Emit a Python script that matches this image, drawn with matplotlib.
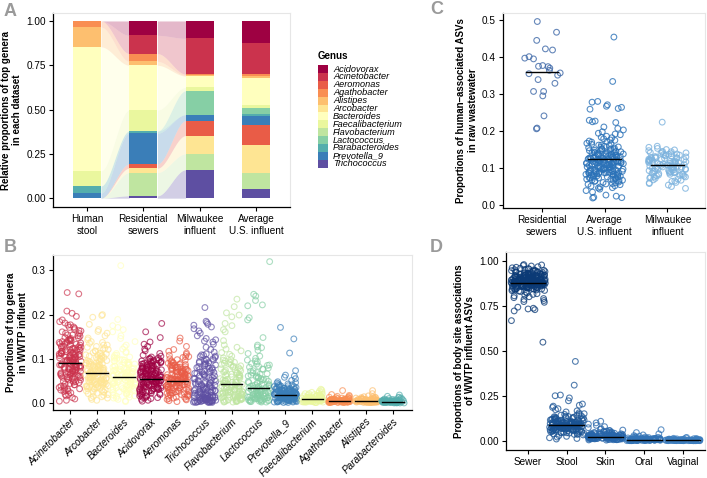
import numpy as np
import matplotlib
matplotlib.use("Agg")
from matplotlib import pyplot as plt
from matplotlib.patches import Rectangle

plt.rcParams['font.family'] = ['Liberation Sans', 'DejaVu Sans']
plt.rcParams['font.size'] = 7

# Genus colours (Spectral, alphabetical)
genera = ["Acidovorax", "Acinetobacter", "Aeromonas", "Agathobacter", "Alistipes",
          "Arcobacter", "Bacteroides", "Faecalibacterium", "Flavobacterium",
          "Lactococcus", "Parabacteroides", "Prevotella_9", "Trichococcus"]
genus_color = dict(zip(genera, plt.get_cmap('Spectral')(np.linspace(0, 1, 13))))

# Panel A data: proportions stacked bottom -> top
datasets = ["Human\nstool", "Residential\nsewers", "Milwaukee\ninfluent", "Average\nU.S. influent"]
stack_order = ["Trichococcus", "Flavobacterium", "Arcobacter", "Aeromonas", "Prevotella_9",
               "Parabacteroides", "Lactococcus", "Faecalibacterium", "Bacteroides",
               "Alistipes", "Agathobacter", "Acinetobacter", "Acidovorax"]
human_stool = [0, 0, 0, 0, 0.028, 0.041, 0, 0.085, 0.700, 0.112, 0.034, 0, 0]
residential = [0.013, 0.131, 0.025, 0.024, 0.173, 0.013, 0, 0.118, 0.253, 0.022, 0.044, 0.103, 0.081]
milwaukee = [0.160, 0.090, 0.103, 0.084, 0.034, 0, 0.135, 0.019, 0.064, 0.004, 0.007, 0.202, 0.098]
average_us = [0.051, 0.092, 0.157, 0.115, 0.050, 0.008, 0.037, 0.015, 0.154, 0.010, 0.011, 0.178, 0.122]

# Panel B data: proportions of top genera in WWTP influent
b_genera = ["Acinetobacter", "Arcobacter", "Bacteroides", "Acidovorax", "Aeromonas", "Trichococcus",
            "Flavobacterium", "Lactococcus", "Prevotella_9", "Faecalibacterium", "Agathobacter",
            "Alistipes", "Parabacteroides"]
b_acinetobacter = [0.250, 0.247, 0.208, 0.203, 0.196, 0.188, 0.184, 0.181, 0.177, 0.176, 0.172, 0.169, 0.166,
                   0.163, 0.161, 0.157, 0.154, 0.152, 0.148, 0.146, 0.143, 0.141, 0.139, 0.136, 0.133, 0.131,
                   0.128, 0.126, 0.124, 0.121, 0.119, 0.116, 0.114, 0.112, 0.110, 0.107, 0.105, 0.104, 0.101,
                   0.099, 0.097, 0.096, 0.093, 0.092, 0.090, 0.088, 0.086, 0.085, 0.083, 0.081, 0.079, 0.078,
                   0.076, 0.074, 0.072, 0.070, 0.068, 0.066, 0.064, 0.061, 0.059, 0.057, 0.055, 0.052, 0.049,
                   0.047, 0.044, 0.041, 0.038, 0.035, 0.032, 0.029, 0.026, 0.023, 0.019, 0.016, 0.012, 0.009,
                   0.006, 0.004, 0.094, 0.087, 0.102, 0.080, 0.109, 0.073, 0.115, 0.066, 0.122, 0.058,
                   0.131, 0.072, 0.108, 0.055, 0.143, 0.087, 0.029, 0.119, 0.064, 0.097, 0.151, 0.041, 0.113,
                   0.079, 0.136, 0.052, 0.092, 0.124, 0.068, 0.101, 0.034, 0.158, 0.083, 0.117, 0.046, 0.129,
                   0.074, 0.106, 0.061, 0.095, 0.139, 0.027, 0.111, 0.086, 0.147, 0.057, 0.099, 0.123, 0.069,
                   0.164, 0.038, 0.089, 0.115, 0.076, 0.133, 0.050, 0.103, 0.081, 0.127, 0.063, 0.094, 0.171,
                   0.043, 0.109, 0.071, 0.137, 0.058, 0.098, 0.120, 0.084, 0.145, 0.031, 0.112, 0.066, 0.102,
                   0.154, 0.077, 0.118, 0.048, 0.091, 0.134, 0.060, 0.105, 0.082, 0.126, 0.019, 0.096, 0.140,
                   0.070, 0.110]
b_arcobacter = [0.200, 0.198, 0.194, 0.178, 0.166, 0.162, 0.158, 0.152, 0.147, 0.143, 0.139, 0.135, 0.131,
                0.128, 0.124, 0.121, 0.117, 0.114, 0.111, 0.108, 0.105, 0.102, 0.099, 0.096, 0.094, 0.091,
                0.089, 0.086, 0.084, 0.081, 0.079, 0.077, 0.075, 0.073, 0.070, 0.068, 0.066, 0.064, 0.062,
                0.060, 0.058, 0.056, 0.054, 0.052, 0.050, 0.048, 0.046, 0.044, 0.042, 0.040, 0.038, 0.036,
                0.034, 0.032, 0.030, 0.027, 0.025, 0.022, 0.019, 0.017, 0.014, 0.011, 0.008, 0.006, 0.069,
                0.063, 0.074, 0.057, 0.083, 0.051, 0.090, 0.045,
                0.072, 0.041, 0.098, 0.056, 0.121, 0.033, 0.084, 0.063, 0.109, 0.047, 0.077, 0.024, 0.092,
                0.059, 0.131, 0.038, 0.068, 0.103, 0.051, 0.086, 0.015, 0.074, 0.113, 0.044, 0.065, 0.096,
                0.029, 0.081, 0.054, 0.118, 0.036, 0.071, 0.089, 0.048, 0.106, 0.061, 0.021, 0.079, 0.052,
                0.126, 0.039, 0.067, 0.094, 0.057, 0.083, 0.031, 0.101, 0.046, 0.073, 0.112, 0.026, 0.062,
                0.087, 0.049, 0.076, 0.035, 0.099, 0.058, 0.137, 0.043, 0.069, 0.091, 0.012, 0.078, 0.053,
                0.107, 0.037, 0.066, 0.085, 0.045]
b_bacteroides = [0.311, 0.189, 0.175, 0.171, 0.166, 0.161, 0.152, 0.146, 0.139, 0.131, 0.127, 0.122, 0.116,
                 0.112, 0.108, 0.104, 0.101, 0.098, 0.095, 0.092, 0.089, 0.086, 0.083, 0.081, 0.078, 0.076,
                 0.073, 0.071, 0.069, 0.067, 0.065, 0.063, 0.061, 0.059, 0.057, 0.055, 0.053, 0.051, 0.049,
                 0.047, 0.045, 0.043, 0.041, 0.039, 0.037, 0.035, 0.033, 0.031, 0.029, 0.027, 0.025, 0.023,
                 0.020, 0.018, 0.016, 0.013, 0.011, 0.008, 0.005, 0.003, 0.058, 0.064, 0.052, 0.070, 0.046,
                 0.062, 0.035, 0.088, 0.047, 0.071, 0.021, 0.097, 0.054, 0.079, 0.039, 0.066, 0.108, 0.029,
                 0.059, 0.083, 0.043, 0.074, 0.015, 0.092, 0.051, 0.068, 0.033, 0.101, 0.057, 0.077, 0.041,
                 0.063, 0.024, 0.086, 0.049, 0.114, 0.037, 0.072, 0.055, 0.095, 0.027, 0.061, 0.081, 0.045,
                 0.069, 0.011, 0.091, 0.053, 0.075, 0.031, 0.064, 0.104, 0.048, 0.084, 0.019, 0.058, 0.078,
                 0.042, 0.067, 0.098, 0.034, 0.056, 0.087, 0.046, 0.073]
b_acidovorax = [0.180, 0.161, 0.148, 0.138, 0.133, 0.128, 0.122, 0.118, 0.112, 0.108, 0.106, 0.104, 0.102,
                0.100, 0.098, 0.096, 0.094, 0.092, 0.090, 0.088, 0.086, 0.084, 0.082, 0.080, 0.078, 0.076,
                0.074, 0.072, 0.070, 0.068, 0.066, 0.064, 0.062, 0.060, 0.058, 0.056, 0.054, 0.052, 0.050,
                0.048, 0.046, 0.044, 0.042, 0.040, 0.038, 0.036, 0.034, 0.032, 0.030, 0.028, 0.026, 0.024,
                0.022, 0.020, 0.018, 0.016, 0.014, 0.012, 0.010, 0.008, 0.006, 0.004, 0.057, 0.061, 0.049,
                0.053, 0.071, 0.043, 0.067, 0.039, 0.083, 0.031, 0.047, 0.059, 0.063, 0.091, 0.035, 0.075,
                0.056, 0.031, 0.078, 0.044, 0.091, 0.022, 0.065, 0.050, 0.084, 0.037, 0.069, 0.013, 0.097,
                0.058, 0.041, 0.075, 0.027, 0.062, 0.088, 0.047, 0.071, 0.019, 0.053, 0.093, 0.035, 0.066,
                0.081, 0.043, 0.059, 0.025, 0.101, 0.049, 0.073, 0.038, 0.063, 0.086, 0.016, 0.054, 0.077,
                0.042, 0.068, 0.029, 0.094, 0.057, 0.046, 0.079, 0.033, 0.061, 0.089, 0.051, 0.072, 0.021,
                0.064, 0.083, 0.039, 0.055, 0.099, 0.045, 0.070, 0.028, 0.060, 0.087, 0.048, 0.076, 0.011,
                0.052, 0.067, 0.036, 0.085, 0.058, 0.041, 0.095, 0.063, 0.024, 0.074, 0.050, 0.080, 0.032,
                0.066, 0.045]
b_aeromonas = [0.147, 0.140, 0.128, 0.121, 0.117, 0.113, 0.110, 0.108, 0.105, 0.103, 0.100, 0.097, 0.095,
               0.092, 0.090, 0.087, 0.085, 0.082, 0.080, 0.077, 0.075, 0.072, 0.070, 0.068, 0.066, 0.063,
               0.061, 0.059, 0.057, 0.055, 0.053, 0.051, 0.049, 0.047, 0.045, 0.043, 0.041, 0.039, 0.037,
               0.035, 0.033, 0.031, 0.029, 0.027, 0.025, 0.023, 0.021, 0.019, 0.017, 0.015, 0.013, 0.011,
               0.009, 0.007, 0.005, 0.003, 0.052, 0.048, 0.056, 0.044, 0.060, 0.040, 0.064, 0.036, 0.054,
               0.046, 0.074, 0.028, 0.081, 0.022,
               0.051, 0.028, 0.073, 0.041, 0.086, 0.019, 0.062, 0.047, 0.079, 0.034, 0.066, 0.010, 0.093,
               0.055, 0.038, 0.071, 0.024, 0.058, 0.084, 0.044, 0.068, 0.015, 0.049, 0.089, 0.031, 0.063,
               0.077, 0.040, 0.056, 0.022, 0.098, 0.046, 0.070, 0.035, 0.060, 0.082, 0.013, 0.052, 0.075,
               0.039, 0.065, 0.026, 0.091, 0.054, 0.043, 0.076, 0.030, 0.058, 0.087, 0.048, 0.069, 0.018,
               0.061, 0.080, 0.036, 0.053, 0.105, 0.042, 0.067, 0.025, 0.057, 0.085, 0.045, 0.072, 0.008,
               0.050, 0.064, 0.033, 0.081, 0.055]
b_trichococcus = [0.216, 0.185, 0.182, 0.178, 0.176, 0.172, 0.168, 0.163, 0.158, 0.152, 0.146, 0.143, 0.140,
                  0.138, 0.133, 0.126, 0.121, 0.115, 0.111, 0.108, 0.106, 0.103, 0.100, 0.097, 0.094, 0.091,
                  0.088, 0.085, 0.082, 0.079, 0.076, 0.073, 0.070, 0.067, 0.064, 0.061, 0.058, 0.055, 0.052,
                  0.049, 0.046, 0.043, 0.040, 0.037, 0.034, 0.031, 0.028, 0.025, 0.022, 0.019, 0.016, 0.013,
                  0.010, 0.008, 0.006, 0.004, 0.002, 0.001, 0.003, 0.005, 0.007, 0.009, 0.011, 0.014, 0.017,
                  0.020, 0.024, 0.029, 0.035, 0.041, 0.002, 0.004, 0.006, 0.001, 0.003, 0.012, 0.018, 0.026,
                  0.008, 0.031, 0.004, 0.057, 0.012, 0.083, 0.021, 0.003, 0.046, 0.015, 0.072, 0.006, 0.038,
                  0.094, 0.010, 0.027, 0.063, 0.002, 0.051, 0.018, 0.105, 0.007, 0.034, 0.078, 0.013, 0.043,
                  0.001, 0.067, 0.024, 0.089, 0.009, 0.055, 0.016, 0.036, 0.099, 0.005, 0.048, 0.022, 0.070,
                  0.011, 0.029, 0.086, 0.003, 0.059, 0.019, 0.040, 0.075, 0.007, 0.032, 0.109, 0.014, 0.053,
                  0.002, 0.066, 0.025, 0.044, 0.091, 0.010, 0.037, 0.080, 0.004, 0.061, 0.017, 0.049, 0.097,
                  0.006, 0.028, 0.069, 0.012, 0.042]
b_flavobacterium = [0.235, 0.218, 0.204, 0.199, 0.195, 0.180, 0.175, 0.166, 0.161, 0.141, 0.131, 0.126, 0.122,
                    0.118, 0.114, 0.110, 0.106, 0.102, 0.098, 0.095, 0.092, 0.089, 0.086, 0.083, 0.080, 0.077,
                    0.074, 0.071, 0.068, 0.065, 0.062, 0.059, 0.056, 0.053, 0.050, 0.047, 0.044, 0.041, 0.038,
                    0.035, 0.032, 0.029, 0.026, 0.023, 0.020, 0.017, 0.014, 0.011, 0.008, 0.005, 0.003, 0.002,
                    0.004, 0.007, 0.010, 0.013, 0.016, 0.019, 0.022, 0.025, 0.030, 0.036, 0.042, 0.012, 0.018,
                    0.021, 0.047, 0.008, 0.066, 0.033, 0.012, 0.081, 0.027, 0.055, 0.004, 0.039, 0.092, 0.016,
                    0.061, 0.029, 0.006, 0.073, 0.043, 0.019, 0.052, 0.010, 0.087, 0.035, 0.024, 0.068, 0.003,
                    0.045, 0.014, 0.058, 0.031, 0.097, 0.009, 0.049, 0.022, 0.077, 0.037, 0.005, 0.063, 0.026,
                    0.041, 0.015, 0.084, 0.053, 0.011, 0.034, 0.070, 0.020, 0.046, 0.007, 0.059, 0.028, 0.090,
                    0.038, 0.013, 0.064, 0.024, 0.051, 0.002, 0.075, 0.032]
b_lactococcus = [0.320, 0.246, 0.242, 0.232, 0.222, 0.220, 0.193, 0.188, 0.148, 0.131, 0.127, 0.125, 0.119,
                 0.112, 0.106, 0.101, 0.097, 0.093, 0.089, 0.085, 0.081, 0.077, 0.073, 0.069, 0.065, 0.061,
                 0.057, 0.053, 0.049, 0.045, 0.041, 0.038, 0.035, 0.032, 0.029, 0.026, 0.023, 0.020, 0.017,
                 0.014, 0.011, 0.008, 0.005, 0.003, 0.002, 0.004, 0.007, 0.010, 0.013, 0.016, 0.019, 0.022,
                 0.027, 0.033, 0.039, 0.006, 0.009, 0.012, 0.015, 0.024,
                 0.018, 0.042, 0.006, 0.061, 0.027, 0.011, 0.076, 0.022, 0.049, 0.003, 0.035, 0.088, 0.014,
                 0.055, 0.025, 0.005, 0.068, 0.038, 0.016, 0.046, 0.009, 0.083, 0.030, 0.020, 0.063, 0.002,
                 0.040, 0.012, 0.052, 0.028, 0.095, 0.007, 0.044, 0.019, 0.072, 0.033, 0.004, 0.058, 0.023,
                 0.037, 0.013, 0.079, 0.048, 0.010, 0.031, 0.066, 0.017, 0.041, 0.006, 0.054, 0.026, 0.086,
                 0.034, 0.011, 0.059]
b_prevotella = [0.171, 0.145, 0.113, 0.073, 0.063, 0.061, 0.058, 0.055, 0.051, 0.048, 0.045, 0.043, 0.041,
                0.039, 0.037, 0.035, 0.033, 0.031, 0.030, 0.028, 0.027, 0.025, 0.024, 0.023, 0.022, 0.021,
                0.020, 0.019, 0.018, 0.017, 0.016, 0.015, 0.014, 0.013, 0.012, 0.011, 0.010, 0.009, 0.008,
                0.007, 0.006, 0.005, 0.004, 0.003, 0.002, 0.001, 0.026, 0.022, 0.018, 0.014, 0.010, 0.006,
                0.029, 0.016, 0.012, 0.008, 0.004, 0.020, 0.024, 0.032, 0.019, 0.021, 0.017, 0.023,
                0.012, 0.027, 0.005, 0.019, 0.034, 0.009, 0.022, 0.015, 0.040, 0.003, 0.025, 0.011, 0.031,
                0.017, 0.007, 0.023, 0.037, 0.013, 0.002, 0.028, 0.018, 0.010, 0.033, 0.006, 0.021, 0.014,
                0.043, 0.008, 0.026, 0.016, 0.004, 0.030, 0.019, 0.011, 0.036, 0.001, 0.024, 0.013, 0.029,
                0.009, 0.020, 0.038, 0.006, 0.017, 0.027, 0.012, 0.003, 0.032, 0.015, 0.022, 0.008, 0.046,
                0.018, 0.010, 0.025, 0.005, 0.035, 0.014, 0.021, 0.002, 0.028, 0.011, 0.016, 0.039, 0.007,
                0.024, 0.013, 0.030, 0.004, 0.019]
b_faecalibacterium = [0.031, 0.029, 0.027, 0.025, 0.023, 0.021, 0.019, 0.018, 0.017, 0.016, 0.015, 0.014,
                      0.013, 0.012, 0.011, 0.010, 0.009, 0.008, 0.008, 0.007, 0.007, 0.006, 0.006, 0.005,
                      0.005, 0.004, 0.004, 0.003, 0.003, 0.002, 0.002, 0.001, 0.001, 0.010, 0.012, 0.009,
                      0.011, 0.006, 0.013, 0.008,
                      0.009, 0.004, 0.014, 0.007, 0.011, 0.002, 0.017, 0.006, 0.010, 0.003, 0.013, 0.008,
                      0.020, 0.005, 0.012, 0.001, 0.009, 0.015, 0.007, 0.004, 0.011, 0.024, 0.006, 0.010,
                      0.003, 0.008, 0.016, 0.005, 0.012, 0.002, 0.009, 0.018, 0.007, 0.013, 0.004, 0.010,
                      0.006, 0.021, 0.008, 0.011]
b_agathobacter = [0.028, 0.019, 0.017, 0.015, 0.013, 0.012, 0.011, 0.010, 0.009, 0.008, 0.007, 0.007, 0.006,
                  0.006, 0.005, 0.005, 0.004, 0.004, 0.004, 0.003, 0.003, 0.003, 0.002, 0.002, 0.002, 0.001,
                  0.001, 0.001, 0.006, 0.005, 0.009, 0.004, 0.007, 0.003, 0.008,
                  0.004, 0.002, 0.007, 0.003, 0.005, 0.001, 0.009, 0.004, 0.006, 0.002, 0.011, 0.003, 0.005,
                  0.008, 0.001, 0.004, 0.006, 0.013, 0.002, 0.005, 0.003, 0.007, 0.004, 0.010, 0.001, 0.006,
                  0.003, 0.005, 0.008, 0.002, 0.004, 0.015, 0.003, 0.006, 0.005]
b_alistipes = [0.028, 0.021, 0.016, 0.014, 0.013, 0.012, 0.011, 0.010, 0.009, 0.008, 0.008, 0.007, 0.006,
               0.006, 0.005, 0.005, 0.004, 0.004, 0.003, 0.003, 0.003, 0.002, 0.002, 0.002, 0.001, 0.001,
               0.001, 0.006, 0.005, 0.009, 0.004, 0.007, 0.003, 0.010,
               0.003, 0.006, 0.002, 0.005, 0.008, 0.001, 0.004, 0.007, 0.003, 0.011, 0.005, 0.002, 0.006,
               0.004, 0.009, 0.001, 0.005, 0.003, 0.012, 0.004, 0.007, 0.002, 0.005, 0.003, 0.008, 0.006,
               0.001, 0.004, 0.014, 0.003, 0.005, 0.002, 0.007, 0.004]
b_parabacteroides = [0.018, 0.015, 0.013, 0.011, 0.010, 0.009, 0.008, 0.007, 0.006, 0.005, 0.005, 0.004,
                     0.004, 0.003, 0.003, 0.003, 0.002, 0.002, 0.002, 0.002, 0.001, 0.001, 0.001, 0.001,
                     0.000, 0.000, 0.004, 0.006, 0.003, 0.002, 0.001,
                     0.002, 0.004, 0.001, 0.003, 0.006, 0.002, 0.000, 0.005, 0.003, 0.001, 0.008, 0.002,
                     0.004, 0.001, 0.003, 0.007, 0.002, 0.000, 0.005, 0.001, 0.003, 0.009, 0.002, 0.004,
                     0.001, 0.012, 0.003, 0.002, 0.006, 0.001, 0.004, 0.002, 0.003]
b_lines = [0.091, 0.068, 0.059, 0.055, 0.050, np.nan, 0.043, 0.034, 0.019, 0.009, 0.005, 0.005, 0.003]

# Panel C data: human-associated ASVs in raw wastewater
c_groups = ["Residential\nsewers", "Average\nU.S. influent", "Milwaukee\ninfluent"]
c_residential = [0.497, 0.468, 0.446, 0.423, 0.420, 0.402, 0.398, 0.396, 0.378, 0.376, 0.375, 0.371, 0.365,
                 0.358, 0.356, 0.352, 0.340, 0.330, 0.308, 0.308, 0.296, 0.242, 0.209, 0.207]
c_average = [0.455, 0.335, 0.281, 0.279, 0.272, 0.268, 0.265, 0.262, 0.260, 0.230, 0.228, 0.226, 0.224,
             0.212, 0.208, 0.204, 0.199, 0.195, 0.191, 0.187, 0.183, 0.180, 0.177, 0.174, 0.171, 0.168,
             0.165, 0.162, 0.160, 0.157, 0.155, 0.152, 0.150, 0.148, 0.146, 0.144, 0.142, 0.140, 0.138,
             0.136, 0.134, 0.132, 0.130, 0.128, 0.126, 0.124, 0.122, 0.120, 0.118, 0.116, 0.114, 0.112,
             0.110, 0.108, 0.106, 0.104, 0.102, 0.100, 0.098, 0.096, 0.094, 0.092, 0.090, 0.088, 0.086,
             0.084, 0.082, 0.080, 0.077, 0.074, 0.071, 0.068, 0.065, 0.062, 0.059, 0.056, 0.053, 0.050,
             0.047, 0.044, 0.040, 0.036, 0.028, 0.025, 0.022, 0.020, 0.021, 0.125, 0.119, 0.131, 0.113,
             0.137, 0.107, 0.143, 0.101, 0.127, 0.121, 0.115, 0.133, 0.109, 0.097, 0.153, 0.089, 0.163,
             0.118, 0.091, 0.142, 0.076, 0.129, 0.104, 0.061, 0.156, 0.113, 0.085, 0.134, 0.097, 0.069,
             0.147, 0.122, 0.081, 0.109, 0.138, 0.073, 0.116, 0.095, 0.163, 0.057, 0.126, 0.088, 0.105,
             0.151, 0.079, 0.119, 0.099, 0.066, 0.135, 0.111, 0.084, 0.172, 0.093, 0.124, 0.071, 0.108,
             0.141, 0.087, 0.115, 0.052, 0.131, 0.101, 0.077, 0.158, 0.094, 0.121, 0.083, 0.112, 0.145,
             0.068, 0.127, 0.098, 0.089, 0.136, 0.074, 0.117, 0.106, 0.184, 0.082, 0.123, 0.096, 0.063,
             0.149, 0.110, 0.086, 0.132, 0.102, 0.075, 0.166, 0.114, 0.092, 0.128, 0.058, 0.139, 0.103,
             0.080, 0.120, 0.193, 0.090, 0.125, 0.072, 0.107, 0.144, 0.085, 0.116, 0.048, 0.130, 0.100,
             0.078, 0.153, 0.095, 0.119, 0.067, 0.140, 0.111, 0.087, 0.176]
c_milwaukee = [0.225, 0.160, 0.157, 0.154, 0.151, 0.148, 0.146, 0.144, 0.142, 0.140, 0.138, 0.136, 0.134,
               0.132, 0.130, 0.128, 0.126, 0.124, 0.122, 0.120, 0.118, 0.116, 0.114, 0.112, 0.110, 0.108,
               0.106, 0.104, 0.102, 0.100, 0.098, 0.096, 0.094, 0.092, 0.090, 0.088, 0.086, 0.084, 0.082,
               0.080, 0.077, 0.074, 0.071, 0.068, 0.065, 0.062, 0.059, 0.055, 0.051, 0.046, 0.111, 0.117,
               0.105, 0.123, 0.099, 0.129, 0.093, 0.113, 0.107, 0.119,
               0.103, 0.127, 0.088, 0.139, 0.115, 0.076, 0.131, 0.097, 0.121, 0.083, 0.145, 0.109, 0.069,
               0.124, 0.092, 0.136, 0.101, 0.116, 0.079, 0.141, 0.106, 0.087, 0.128, 0.095, 0.119, 0.073,
               0.134, 0.099, 0.112, 0.085, 0.150, 0.104, 0.125, 0.066, 0.117, 0.091, 0.137, 0.108, 0.081,
               0.130, 0.096, 0.114, 0.061, 0.122, 0.089, 0.143, 0.102, 0.118, 0.077, 0.110]
c_lines = [0.360, 0.125, 0.110]

# Panel D data: body site associations of WWTP influent ASVs
d_sites = ["Sewer", "Stool", "Skin", "Oral", "Vaginal"]
d_sewer = [0.980, 0.978, 0.975, 0.972, 0.968, 0.965, 0.962, 0.959, 0.956, 0.953, 0.950, 0.947, 0.944, 0.941,
           0.938, 0.935, 0.932, 0.929, 0.926, 0.923, 0.920, 0.917, 0.914, 0.911, 0.908, 0.905, 0.902, 0.899,
           0.896, 0.893, 0.890, 0.887, 0.884, 0.881, 0.878, 0.875, 0.872, 0.869, 0.866, 0.863, 0.860, 0.857,
           0.854, 0.851, 0.848, 0.845, 0.842, 0.839, 0.836, 0.833, 0.830, 0.826, 0.822, 0.818, 0.814, 0.810,
           0.806, 0.801, 0.796, 0.791, 0.786, 0.780, 0.774, 0.770, 0.743, 0.737, 0.733, 0.729, 0.722, 0.668,
           0.548, 0.880, 0.890, 0.870, 0.900, 0.860, 0.910, 0.885, 0.875, 0.895, 0.865, 0.905, 0.855, 0.915,
           0.882, 0.878, 0.888, 0.872, 0.893, 0.884, 0.876, 0.898, 0.868, 0.903, 0.862, 0.912,
           0.884, 0.912, 0.861, 0.935, 0.873, 0.898, 0.847, 0.921, 0.889, 0.866, 0.943, 0.879, 0.904, 0.852,
           0.927, 0.893, 0.868, 0.916, 0.881, 0.839, 0.908, 0.876, 0.951, 0.887, 0.858, 0.924, 0.895, 0.871,
           0.914, 0.843, 0.901, 0.882, 0.937, 0.864, 0.891, 0.919, 0.874, 0.906, 0.849, 0.928, 0.886, 0.869,
           0.897, 0.931, 0.877, 0.855, 0.911, 0.890, 0.866, 0.946, 0.883, 0.902, 0.859, 0.922, 0.894, 0.872,
           0.918, 0.880, 0.835, 0.909, 0.885, 0.939, 0.867, 0.899, 0.853, 0.926, 0.888, 0.875, 0.913, 0.892,
           0.861, 0.933, 0.878, 0.903, 0.846, 0.920, 0.886, 0.870, 0.896, 0.957, 0.881, 0.857, 0.915, 0.893,
           0.868, 0.907, 0.876, 0.925, 0.889, 0.851, 0.900, 0.883, 0.941, 0.872, 0.910, 0.862, 0.897, 0.929,
           0.879, 0.844, 0.917, 0.887, 0.865, 0.904, 0.891, 0.874, 0.936, 0.884, 0.859, 0.913, 0.895, 0.871,
           0.922, 0.882, 0.848, 0.906, 0.890, 0.877, 0.948, 0.863]
d_stool = [0.441, 0.309, 0.254, 0.250, 0.238, 0.222, 0.204, 0.197, 0.192, 0.185, 0.178, 0.172, 0.166, 0.160,
           0.155, 0.150, 0.146, 0.142, 0.138, 0.134, 0.130, 0.127, 0.124, 0.121, 0.118, 0.115, 0.112, 0.109,
           0.106, 0.103, 0.100, 0.098, 0.096, 0.094, 0.092, 0.090, 0.088, 0.086, 0.084, 0.082, 0.080, 0.078,
           0.076, 0.074, 0.072, 0.070, 0.068, 0.066, 0.064, 0.062, 0.060, 0.058, 0.056, 0.054, 0.052, 0.050,
           0.047, 0.044, 0.041, 0.038, 0.035, 0.032, 0.028, 0.024, 0.020, 0.016, 0.012, 0.009, 0.091, 0.087,
           0.095, 0.083, 0.099, 0.079, 0.089, 0.093, 0.085, 0.097, 0.081, 0.101, 0.075, 0.105, 0.071, 0.111,
           0.087, 0.061, 0.112, 0.074, 0.095, 0.048, 0.128, 0.083, 0.067, 0.104, 0.091, 0.055, 0.119, 0.079,
           0.099, 0.042, 0.136, 0.086, 0.070, 0.108, 0.093, 0.058, 0.123, 0.081, 0.064, 0.101, 0.089, 0.051,
           0.115, 0.076, 0.097, 0.038, 0.131, 0.084, 0.068, 0.106, 0.092, 0.059, 0.142, 0.078, 0.094, 0.046,
           0.117, 0.082, 0.066, 0.102, 0.088, 0.053, 0.125, 0.080, 0.096, 0.035, 0.110, 0.085, 0.071, 0.107,
           0.090, 0.057, 0.121, 0.077, 0.100, 0.044, 0.133, 0.083, 0.065, 0.098, 0.087, 0.062, 0.114, 0.075,
           0.092, 0.049, 0.127, 0.086, 0.069, 0.103, 0.094, 0.056, 0.147, 0.081]
d_skin = [0.108, 0.099, 0.092, 0.085, 0.078, 0.072, 0.067, 0.063, 0.059, 0.056, 0.053, 0.050, 0.047, 0.045,
          0.043, 0.041, 0.039, 0.037, 0.035, 0.033, 0.031, 0.030, 0.028, 0.027, 0.026, 0.025, 0.024, 0.023,
          0.022, 0.021, 0.020, 0.019, 0.018, 0.017, 0.016, 0.015, 0.014, 0.013, 0.012, 0.011, 0.010, 0.009,
          0.008, 0.007, 0.006, 0.005, 0.004, 0.003, 0.024, 0.022, 0.020, 0.026, 0.018, 0.028, 0.016, 0.030,
          0.025, 0.021, 0.019, 0.023, 0.034, 0.014, 0.038, 0.011,
          0.021, 0.012, 0.034, 0.017, 0.027, 0.008, 0.041, 0.023, 0.015, 0.030, 0.019, 0.006, 0.037, 0.025,
          0.013, 0.045, 0.020, 0.028, 0.010, 0.033, 0.022, 0.016, 0.051, 0.026, 0.011, 0.031, 0.018, 0.039,
          0.024, 0.009, 0.029, 0.021, 0.014, 0.047, 0.023, 0.017, 0.035, 0.007, 0.027, 0.020, 0.042, 0.015,
          0.031, 0.024, 0.012, 0.038, 0.019, 0.026, 0.005, 0.032, 0.022, 0.016, 0.056, 0.025, 0.013, 0.029,
          0.018, 0.036, 0.021, 0.010]
d_oral = [0.061, 0.045, 0.038, 0.032, 0.028, 0.025, 0.022, 0.020, 0.018, 0.016, 0.014, 0.013, 0.012, 0.011,
          0.010, 0.009, 0.008, 0.007, 0.007, 0.006, 0.006, 0.005, 0.005, 0.004, 0.004, 0.003, 0.003, 0.002,
          0.002, 0.002, 0.001, 0.001, 0.001, 0.000, 0.000, 0.004, 0.006, 0.003, 0.005, 0.008,
          0.004, 0.007, 0.002, 0.010, 0.005, 0.001, 0.008, 0.003, 0.012, 0.006, 0.002, 0.009, 0.004, 0.015,
          0.001, 0.007, 0.003, 0.011, 0.005, 0.000, 0.008, 0.004, 0.013, 0.002, 0.006, 0.010, 0.003, 0.017,
          0.005, 0.001, 0.009, 0.004, 0.007, 0.002, 0.014, 0.006, 0.003, 0.011, 0.005, 0.000, 0.008, 0.004,
          0.020, 0.002, 0.006, 0.009, 0.003, 0.012, 0.005, 0.001]
d_vaginal = [0.018, 0.015, 0.012, 0.010, 0.009, 0.008, 0.007, 0.006, 0.005, 0.004, 0.004, 0.003, 0.003,
             0.003, 0.002, 0.002, 0.002, 0.002, 0.001, 0.001, 0.001, 0.001, 0.001, 0.000, 0.000, 0.000,
             0.000, 0.002, 0.003, 0.001, 0.004, 0.002,
             0.002, 0.001, 0.004, 0.000, 0.003, 0.001, 0.006, 0.002, 0.000, 0.005, 0.001, 0.003, 0.002,
             0.008, 0.000, 0.004, 0.001, 0.002, 0.007, 0.003, 0.000, 0.001, 0.005, 0.002, 0.004, 0.000,
             0.011, 0.001, 0.003, 0.002, 0.006, 0.000, 0.001, 0.004, 0.002, 0.009, 0.001, 0.003, 0.000,
             0.005, 0.002, 0.001, 0.013, 0.003, 0.000]
d_lines = [0.880, 0.088, 0.022, 0.005, 0.002]


# Light grey top/right border, black left/bottom axis
def style_axis(ax):
    for side in ['top', 'right']:
        ax.spines[side].set_color('#E6E6E6')
        ax.spines[side].set_linewidth(0.8)
    for side in ['left', 'bottom']:
        ax.spines[side].set_linewidth(0.9)
    ax.tick_params(length=3, width=0.8, labelsize=7.2, colors='black', pad=2)


# Jittered open circles plus a black line at the group value
def jitter_group(ax, pos, vals, color, half, line, line_half, alpha):
    vals = np.asarray(vals)
    h = np.sin((np.arange(len(vals)) + 1 + pos * 31.7) * 12.9898) * 43758.5453
    offs = (h - np.floor(h) - 0.5) * 2 * half
    ax.scatter(pos + offs, vals, s=17, facecolors='none', edgecolors=color,
               linewidths=0.8, alpha=alpha, zorder=2)
    if not np.isnan(line):
        ax.plot([pos - line_half, pos + line_half], [line, line], color='black', lw=1.0, zorder=3)


fig = plt.figure(figsize=(7.07, 4.78), dpi=100)
W, H = 707.0, 478.0


def axes_px(left, top, right, bottom):
    return fig.add_axes([left / W, 1 - bottom / H, (right - left) / W, (bottom - top) / H])


# ---------------- Panel A ----------------
axA = axes_px(53, 13, 290, 207)
bars = [human_stool, residential, milwaukee, average_us]
bounds = []
for i, props in enumerate(bars):
    bottoms = np.concatenate([[0], np.cumsum(props)[:-1]])
    bounds.append((bottoms, bottoms + np.array(props)))
    for g, p, b in zip(stack_order, props, bottoms):
        if p > 0:
            axA.bar(i + 1, p, bottom=b, width=0.5, color=genus_color[g], lw=0, zorder=2)

# Flows between neighbouring bars
for left_i in [0, 1]:
    x0, x1 = left_i + 1 + 0.25, left_i + 2 - 0.25
    xs = np.linspace(x0, x1, 60)
    t = (xs - x0) / (x1 - x0)
    s = t * t * (3 - 2 * t)
    lo0, hi0 = bounds[left_i]
    lo1, hi1 = bounds[left_i + 1]
    for k, g in enumerate(stack_order):
        if hi0[k] - lo0[k] <= 0 and hi1[k] - lo1[k] <= 0:
            continue
        axA.fill_between(xs, lo0[k] + (lo1[k] - lo0[k]) * s, hi0[k] + (hi1[k] - hi0[k]) * s,
                         color=genus_color[g], alpha=0.28, lw=0, zorder=1)

axA.set_xlim(0.4, 4.6)
axA.set_ylim(-0.05, 1.045)
axA.set_xticks([1, 2, 3, 4])
axA.set_xticklabels(datasets)
axA.set_yticks([0, 0.25, 0.5, 0.75, 1.0])
axA.set_yticklabels(["0.00", "0.25", "0.50", "0.75", "1.00"])
axA.set_ylabel("Relative proportions of top genera\nin each dataset", fontweight='bold', fontsize=7, labelpad=3)
style_axis(axA)

# Legend for genus colours
fig.text(318 / W, 1 - 56 / H, "Genus", fontweight='bold', fontsize=7, va='center', ha='left')
row_h = 7.9
for i, g in enumerate(genera):
    yc = 69 + i * row_h
    fig.add_artist(Rectangle((318 / W, 1 - (yc + row_h / 2) / H), 9.5 / W, row_h / H,
                             transform=fig.transFigure, facecolor=genus_color[g], lw=0))
    fig.text(333 / W, 1 - yc / H, g, fontstyle='italic', fontsize=6.6, va='center', ha='left')

# ---------------- Panel B ----------------
axB = axes_px(53, 255, 412, 410)
b_values = [b_acinetobacter, b_arcobacter, b_bacteroides, b_acidovorax, b_aeromonas, b_trichococcus,
            b_flavobacterium, b_lactococcus, b_prevotella, b_faecalibacterium, b_agathobacter,
            b_alistipes, b_parabacteroides]
for i, (g, vals) in enumerate(zip(b_genera, b_values)):
    jitter_group(axB, i + 1, vals, genus_color[g], 0.42, b_lines[i], 0.4, 0.68)
axB.set_xlim(0.37, 13.7)
axB.set_ylim(-0.016, 0.335)
axB.set_xticks(range(1, 14))
axB.set_xticklabels(b_genera, rotation=45, ha='right', rotation_mode='anchor', fontstyle='italic')
axB.set_yticks([0, 0.1, 0.2, 0.3])
axB.set_yticklabels(["0.0", "0.1", "0.2", "0.3"])
axB.set_ylabel("Proportions of top genera\nin WWTP influent", fontweight='bold', fontsize=7, labelpad=3)
style_axis(axB)

# ---------------- Panel C ----------------
axC = axes_px(503, 13, 705, 208)
c_colors = ['#3F69A8', '#2B72B8', '#7DB3DE']
for i, vals in enumerate([c_residential, c_average, c_milwaukee]):
    jitter_group(axC, i + 1, vals, c_colors[i], 0.3, c_lines[i], 0.26, 0.8)
axC.set_xlim(0.38, 3.6)
axC.set_ylim(-0.007, 0.52)
axC.set_xticks([1, 2, 3])
axC.set_xticklabels(c_groups)
axC.set_yticks([0, 0.1, 0.2, 0.3, 0.4, 0.5])
axC.set_yticklabels(["0.0", "0.1", "0.2", "0.3", "0.4", "0.5"])
axC.set_ylabel("Proportions of human\u2013associated ASVs\nin raw wastewater", fontweight='bold',
               fontsize=7, labelpad=3)
style_axis(axC)

# ---------------- Panel D ----------------
axD = axes_px(506, 252, 705, 450)
d_colors = ['#0B3A76', '#1A5394', '#2765AA', '#3273B6', '#3C7DBE']
for i, vals in enumerate([d_sewer, d_stool, d_skin, d_oral, d_vaginal]):
    jitter_group(axD, i + 1, vals, d_colors[i], 0.45, d_lines[i], 0.45, 0.75)
axD.set_xlim(0.43, 5.57)
axD.set_ylim(-0.052, 1.05)
axD.set_xticks(range(1, 6))
axD.set_xticklabels(d_sites)
axD.set_yticks([0, 0.25, 0.5, 0.75, 1.0])
axD.set_yticklabels(["0.00", "0.25", "0.50", "0.75", "1.00"])
axD.set_ylabel("Proportions of body site associations\nof WWTP influent ASVs", fontweight='bold',
               fontsize=7, labelpad=3)
style_axis(axD)

# Panel letters
for letter, x, y in [("A", 4, 11), ("B", 4, 248), ("C", 430, 9), ("D", 430, 248)]:
    fig.text(x / W, 1 - y / H, letter, fontsize=13, fontweight='bold', color='#9A9A9A', va='center', ha='left')

fig.savefig("out.png", dpi=100)
